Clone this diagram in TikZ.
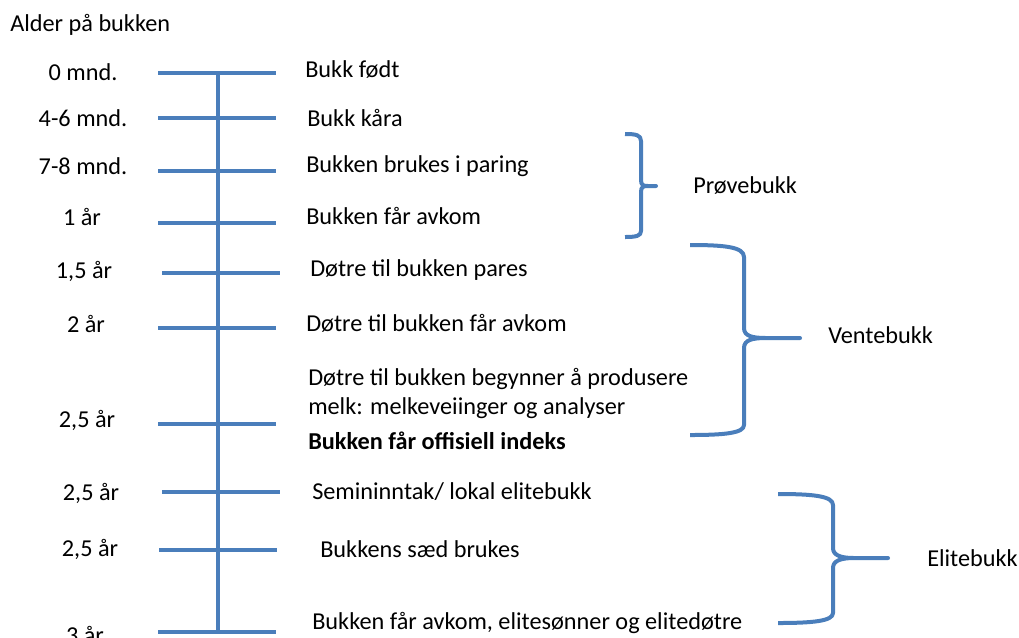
\documentclass[tikz,border=0pt]{standalone}
\usepackage{fontspec}
\setmainfont{Carlito}
\usepackage{tikz}
\definecolor{lineblue}{HTML}{4A7EBB}

\begin{document}
\begin{tikzpicture}[x=0.75pt, y=-0.75pt, font=\fontsize{18.2}{21.75}\selectfont,
    bar/.style={lineblue, line width=3pt},
    brace/.style={lineblue, line width=3pt, line join=round},
    age/.style={inner sep=0pt},
    event/.style={anchor=west, inner sep=0pt, align=left}]
        \useasboundingbox (0, 0) rectangle (1019, 637);
        \node[anchor=west, inner sep=0pt] (title) at (10, 25) {Alder på bukken};
        \draw[bar] (218, 73) -- (218, 632);
        \draw[bar] (158, 73) -- (276, 73);
        \draw[bar] (158, 118) -- (276, 118);
        \draw[bar] (158, 171) -- (276, 171);
        \draw[bar] (158, 223) -- (276, 223);
        \draw[bar] (162, 273) -- (280, 273);
        \draw[bar] (158, 328) -- (276, 328);
        \draw[bar] (158, 424) -- (276, 424);
        \draw[bar] (162, 492) -- (280, 492);
        \draw[bar] (159, 550) -- (277, 550);
        \draw[bar] (158, 632) -- (276, 632);
        \node[age] (a0) at (83, 72) {0 mnd.};
        \node[age] (a1) at (83, 118) {4-6 mnd.};
        \node[age] (a2) at (83, 166) {7-8 mnd.};
        \node[age] (a3) at (82, 217) {1 år};
        \node[age] (a4) at (84, 271) {1,5 år};
        \node[age] (a5) at (86, 324) {2 år};
        \node[age] (a6) at (87, 420) {2,5 år};
        \node[age] (a7) at (91, 493) {2,5 år};
        \node[age] (a8) at (90, 549) {2,5 år};
        \node[age] (a9) at (85, 635) {3 år};
        \node[event] (e0) at (305, 70) {Bukk født};
        \node[event] (e1) at (307, 118) {Bukk kåra};
        \node[event] (e2) at (306, 166) {Bukken brukes i paring};
        \node[event] (e3) at (306, 216) {Bukken får avkom};
        \node[event] (e4) at (310, 270) {Døtre til bukken pares};
        \node[event] (e5) at (306, 323) {Døtre til bukken får avkom};
        \node[event] (e6) at (308, 393) {Døtre til bukken begynner å produsere\\melk: melkeveiinger og analyser};
        \node[event, font=\fontsize{18.2}{21.75}\selectfont\bfseries] (e7) at (308, 441) {Bukken får offisiell indeks};
        \node[event] (e8) at (312, 492) {Semininntak/ lokal elitebukk};
        \node[event] (e9) at (320, 549) {Bukkens sæd brukes};
        \node[event] (e10) at (312, 623) {Bukken får avkom, elitesønner og elitedøtre};
        % braces
        \draw[brace] (625, 134) .. controls (636, 134) and (641, 135) .. (641, 141) -- (641, 180)
            .. controls (641, 185) and (643, 186) .. (648, 186) -- (656, 186) -- (648, 186)
            .. controls (643, 186) and (641, 187) .. (641, 192) -- (641, 231)
            .. controls (641, 236) and (636, 237) .. (625, 237);
        \node[event] (proeve) at (693, 186) {Prøvebukk};
        \draw[brace] (690, 245) .. controls (725, 245) and (744, 247) .. (744, 257) -- (744, 328)
            .. controls (744, 336) and (752, 338) .. (766, 338) -- (800, 338) -- (766, 338)
            .. controls (752, 338) and (744, 340) .. (744, 348) -- (744, 425)
            .. controls (744, 433) and (725, 435) .. (690, 435);
        \node[event] (vente) at (828, 335) {Ventebukk};
        \draw[brace] (778, 494) .. controls (813, 494) and (833, 496) .. (833, 505) -- (833, 548)
            .. controls (833, 555) and (840, 558) .. (854, 558) -- (888, 558) -- (854, 558)
            .. controls (840, 558) and (833, 561) .. (833, 568) -- (833, 613)
            .. controls (833, 621) and (813, 623) .. (778, 623);
        \node[event] (elite) at (927, 558) {Elitebukk};
      \end{tikzpicture}
\end{document}
